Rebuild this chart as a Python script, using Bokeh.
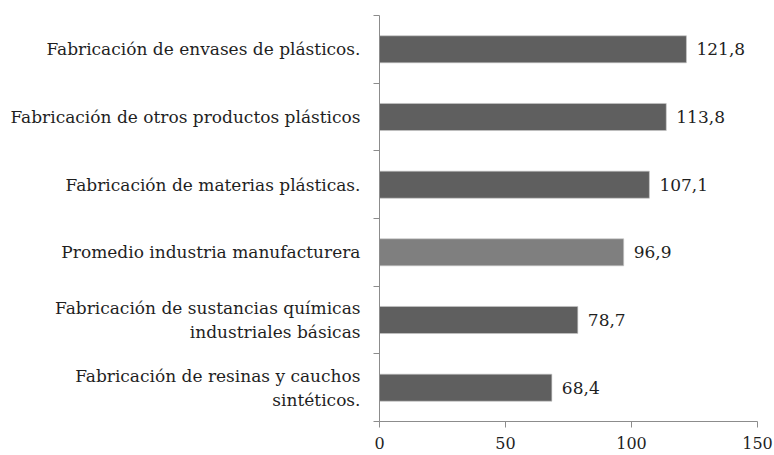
from bokeh.plotting import figure
from bokeh.models import Range1d, LinearAxis, FixedTicker, ColumnDataSource
from bokeh.core.properties import value
from bokeh.embed import file_html
from bokeh.resources import INLINE

# data (top to bottom as in the chart)
categories = [
    "Fabricación de envases de plásticos.",
    "Fabricación de otros productos plásticos",
    "Fabricación de materias plásticas.",
    "Promedio industria manufacturera",
    "Fabricación de sustancias químicas\nindustriales básicas",
    "Fabricación de resinas y cauchos\nsintéticos.",
]
values = [121.8, 113.8, 107.1, 96.9, 78.7, 68.4]
bar_colors = ["#5f5f5f", "#5f5f5f", "#5f5f5f", "#7f7f7f", "#5f5f5f", "#5f5f5f"]
x_ticks = [0, 50, 100, 150]

n = len(categories)
ypos = [n - 0.5 - i for i in range(n)]
labels = [f"{v:.1f}".replace(".", ",") for v in values]

FONT = "DejaVu Serif"
TXT = "#1f1f1f"
AX = "#8c8c8c"

src = ColumnDataSource(dict(y=ypos, val=values, col=bar_colors, lbl=labels))

p = figure(
    y_range=Range1d(0, n),
    x_range=Range1d(0, 150),
    width=774, height=455,
    output_backend="svg", toolbar_location=None,
    min_border_left=379, min_border_right=17,
    min_border_top=15, min_border_bottom=34,
)
p.outline_line_color = None
p.xgrid.visible = False
p.ygrid.visible = False

p.hbar(y="y", left=0, right="val", height=0.4, fill_color="col",
       line_color="#c8c8c8", line_width=0.6, source=src)
p.text(x="val", y="y", text="lbl", x_offset=10, text_align="left",
       text_baseline="middle", text_font=value(FONT), text_font_size="17px",
       text_color=TXT, source=src)

# x axis
xa = p.xaxis[0]
xa.ticker = FixedTicker(ticks=x_ticks)
xa.axis_line_color = AX
xa.major_tick_line_color = AX
xa.major_tick_in = 0
xa.major_tick_out = 6
xa.minor_tick_line_color = None
xa.major_label_text_font = FONT
xa.major_label_text_font_size = "16px"
xa.major_label_text_color = TXT
xa.major_label_standoff = 9

# axis line with ticks at category boundaries
ta = p.yaxis[0]
ta.ticker = FixedTicker(ticks=list(range(n + 1)))
ta.major_label_overrides = {i: "" for i in range(n + 1)}
ta.major_label_standoff = 0
ta.axis_line_color = AX
ta.major_tick_line_color = AX
ta.major_tick_in = 0
ta.major_tick_out = 6
ta.minor_tick_line_color = None

# category labels
la = LinearAxis(
    ticker=FixedTicker(ticks=ypos),
    major_label_overrides={y: c for y, c in zip(ypos, categories)},
    axis_line_color=None,
    major_tick_line_color=None,
    minor_tick_line_color=None,
    major_label_text_font=FONT,
    major_label_text_font_size="17px",
    major_label_text_color=TXT,
    major_label_standoff=7,
)
p.add_layout(la, "left")

open("out.html", "w").write(file_html(p, INLINE))
